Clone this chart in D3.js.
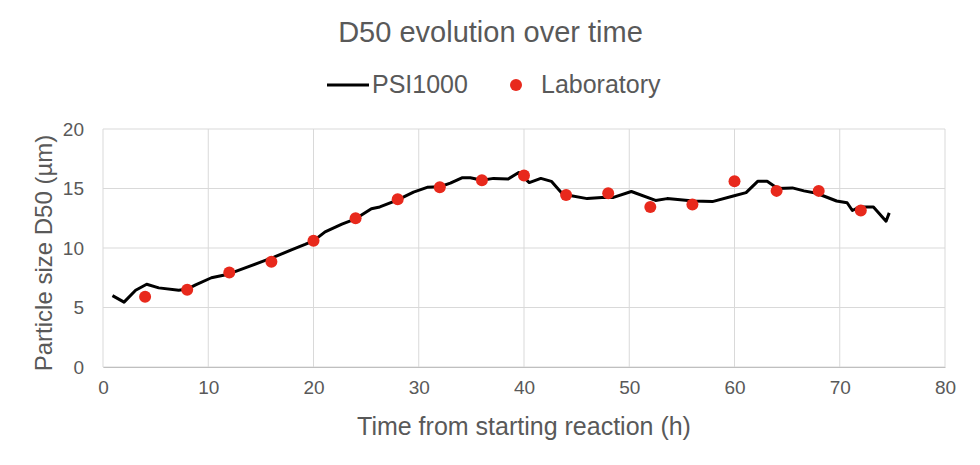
<!DOCTYPE html>
<html><head><meta charset="utf-8">
<script src="https://cdn.jsdelivr.net/npm/d3@7"></script>
<style>body{margin:0;background:#fff}text{font-family:"Liberation Sans",Arial,sans-serif}</style>
</head><body><svg id="c" width="980" height="465"></svg>
<script>
const psiTime = [0.9,2.0,3.1,4.15,5.3,7.2,8.0,8.8,10.3,11.9,13.7,15.1,16.3,17.9,19.2,20.0,21.1,22.7,24.0,25.5,26.3,27.9,29.5,30.8,32.0,33.0,34.1,34.9,36.0,37.1,38.5,39.5,40.5,41.6,42.6,43.6,44.1,46.0,47.4,48.5,50.2,52.5,53.6,56.1,57.9,59.8,61.1,62.2,63.1,64.1,65.5,66.6,67.8,69.7,70.7,71.2,71.9,73.2,74.4,74.7];
const psiD50 = [6.0,5.45,6.45,6.95,6.65,6.45,6.55,6.9,7.5,7.8,8.4,8.85,9.25,9.85,10.3,10.6,11.35,12.0,12.45,13.3,13.45,14.0,14.7,15.1,15.15,15.45,15.9,15.9,15.7,15.85,15.8,16.35,15.5,15.85,15.6,14.6,14.45,14.15,14.25,14.25,14.75,14.0,14.15,13.95,13.9,14.35,14.65,15.6,15.6,15.0,15.05,14.8,14.6,13.95,13.8,13.15,13.45,13.45,12.25,12.95];
const labTime = [4,8,12,16,20,24,28,32,36,40,44,48,52,56,60,64,68,72];
const labD50 = [5.9,6.5,7.95,8.85,10.6,12.5,14.1,15.1,15.7,16.1,14.45,14.6,13.45,13.65,15.6,14.8,14.8,13.15];
const xTicks = [0,10,20,30,40,50,60,70,80];
const yTicks = [0,5,10,15,20];

const svg = d3.select("#c");
const L=103, R=945, T=129, B=367;
const x = d3.scaleLinear().domain([0,80]).range([L,R]);
const y = d3.scaleLinear().domain([0,20]).range([B,T]);
const grey="#595959", grid="#d9d9d9";

const g = svg.append("g");
g.selectAll(".hg").data(yTicks).join("line").attr("x1",L).attr("x2",R)
 .attr("y1",d=>y(d)).attr("y2",d=>y(d)).attr("stroke",grid).attr("stroke-width",1);
g.selectAll(".vg").data(xTicks).join("line").attr("y1",T).attr("y2",B)
 .attr("x1",d=>x(d)).attr("x2",d=>x(d)).attr("stroke",grid).attr("stroke-width",1);

const xa = svg.append("g").attr("transform",`translate(0,${B})`)
 .call(d3.axisBottom(x).tickValues(xTicks).tickSize(0).tickPadding(14));
xa.select(".domain").attr("stroke","#bfbfbf");
xa.selectAll("text").attr("fill",grey).style("font-size","19px").style("font-family","Liberation Sans, Arial");
const ya = svg.append("g").attr("transform",`translate(${L},0)`)
 .call(d3.axisLeft(y).tickValues(yTicks).tickSize(0).tickPadding(19));
ya.select(".domain").remove();
ya.selectAll("text").attr("fill",grey).style("font-size","19px").style("font-family","Liberation Sans, Arial");

const line = d3.line().x(d=>x(d[0])).y(d=>y(d[1]));
svg.append("path").datum(psiTime.map((t,i)=>[t,psiD50[i]])).attr("d",line)
 .attr("fill","none").attr("stroke","#000").attr("stroke-width",3).attr("stroke-linejoin","round");
svg.selectAll(".lab").data(labTime.map((t,i)=>[t,labD50[i]])).join("circle")
 .attr("cx",d=>x(d[0])).attr("cy",d=>y(d[1])).attr("r",6).attr("fill","#e8291c");

svg.append("text").attr("x",490.5).attr("y",42).attr("text-anchor","middle")
 .attr("fill",grey).style("font-size","29px").text("D50 evolution over time");
svg.append("line").attr("x1",327).attr("x2",369).attr("y1",85).attr("y2",85).attr("stroke","#000").attr("stroke-width",3);
svg.append("text").attr("x",372).attr("y",93).attr("fill",grey).style("font-size","25px").text("PSI1000");
svg.append("circle").attr("cx",516).attr("cy",85).attr("r",6).attr("fill","#e8291c");
svg.append("text").attr("x",541).attr("y",93).attr("fill",grey).style("font-size","25px").text("Laboratory");

svg.append("text").attr("x",524).attr("y",435).attr("text-anchor","middle")
 .attr("fill",grey).style("font-size","25px").text("Time from starting reaction (h)");
svg.append("text").attr("transform",`translate(52,253) rotate(-90)`).attr("text-anchor","middle")
 .attr("fill",grey).style("font-size","24px").text("Particle size D50 (µm)");
</script></body></html>
